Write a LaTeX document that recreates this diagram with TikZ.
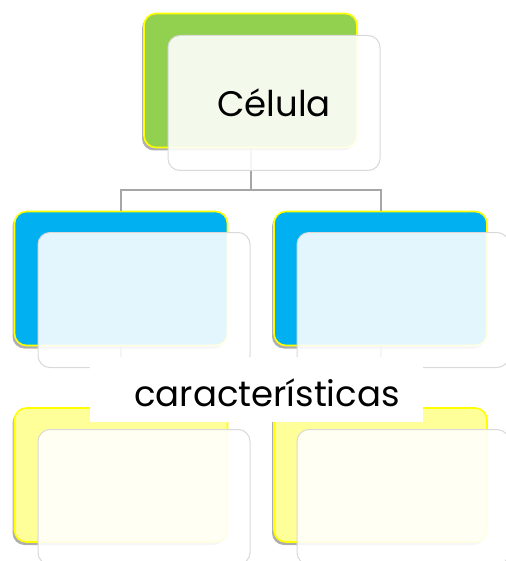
\documentclass[tikz,border=0pt]{standalone}
\usepackage{fontspec}
\setmainfont{Poppins}
\usetikzlibrary{shadows}
\definecolor{cgreen}{HTML}{92D050}
\definecolor{cblue}{HTML}{00B0F0}
\definecolor{cyel}{HTML}{FFFF99}
\definecolor{cborder}{HTML}{FFFF00}
\definecolor{cline}{HTML}{A6A6A6}
\definecolor{cfront}{HTML}{D9D9D9}
\tikzset{
  backbox/.style={draw=cborder, line width=1.6pt, rounded corners=12pt,
    minimum width=213pt, minimum height=134pt, inner sep=0pt,
    drop shadow={shadow xshift=-2pt, shadow yshift=-3pt, opacity=0.45, fill=black!70}},
  frontbox/.style={draw=cfront, line width=1pt, rounded corners=12pt,
    fill=white, fill opacity=0.89, text opacity=1,
    minimum width=212pt, minimum height=135pt, inner sep=0pt},
  conn/.style={draw=cline, line width=2pt},
  big/.style={font=\fontsize{35.5}{40}\selectfont, text=black}
}
\begin{document}
\begin{tikzpicture}[x=1pt,y=-1pt]
\useasboundingbox (0,0) rectangle (505,561);
% back boxes
\node[backbox, fill=cgreen] (cel) at (250.5,80.5) {};
\node[backbox, fill=cblue] (b1) at (121,278.5) {};
\node[backbox, fill=cblue] (b2) at (380.5,278.5) {};
\node[backbox, fill=cyel] (y1) at (121,475) {};
\node[backbox, fill=cyel] (y2) at (380.5,475) {};
% connectors
\coordinate (j) at (250.5,190);
\draw[conn] (cel.south) -- (j);
\draw[conn] (b1.north) |- (j) -| (b2.north);
\draw[conn] (b1.south) -- (y1.north);
\draw[conn] (b2.south) -- (y2.north);
% front boxes
\node[frontbox] (f0) at (274,103) {};
\node[frontbox] (f1) at (144,300) {};
\node[frontbox] (f2) at (403,300) {};
\node[frontbox] (f3) at (144,497) {};
\node[frontbox] (f4) at (403,497) {};
\node[big] (t0) at (f0.center) {Célula};
% label
\node[fill=white, minimum width=333pt, minimum height=65pt, inner sep=0pt] (lb) at (256.5,389.5) {};
\node[big] (t1) at (267,393) {características};
\end{tikzpicture}
\end{document}
